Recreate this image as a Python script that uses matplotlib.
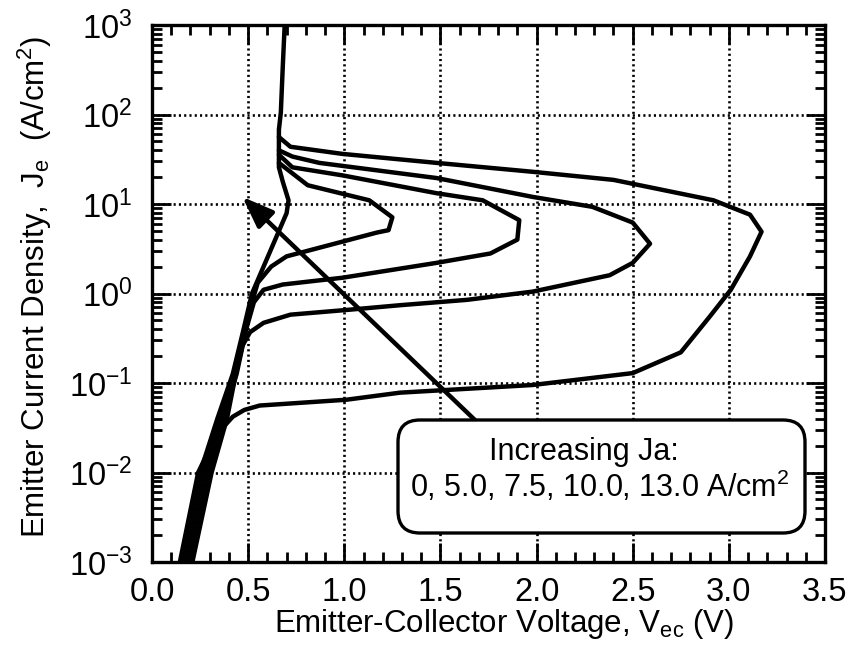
import matplotlib
matplotlib.use("Agg")
import matplotlib.pyplot as plt
from matplotlib.ticker import MultipleLocator, LogLocator, NullFormatter
from matplotlib.patches import FancyBboxPatch

plt.rcParams['font.family'] = ['Liberation Sans', 'DejaVu Sans']
plt.rcParams['mathtext.fontset'] = 'custom'
plt.rcParams['mathtext.rm'] = 'Liberation Sans'
plt.rcParams['mathtext.it'] = 'Liberation Sans:italic'
plt.rcParams['mathtext.default'] = 'regular'
plt.rcParams['axes.unicode_minus'] = False

# ---- data ----
v_ja0 = [0.15, 0.25, 0.34, 0.42, 0.47, 0.52, 0.70, 0.71, 0.68, 0.66, 0.66, 0.67, 0.68, 0.69]
j_ja0 = [0.001, 0.01, 0.04, 0.126, 0.35, 1.0, 7.9, 11, 17.8, 25.7, 67.6, 105, 339, 1000]

v_ja5 = [0.17, 0.27, 0.36, 0.43, 0.48, 0.52, 0.55, 0.62, 0.70, 1.17, 1.23, 1.25, 1.13, 0.81, 0.66]
j_ja5 = [0.001, 0.01, 0.04, 0.126, 0.35, 0.8, 1.32, 2.0, 2.6, 4.8, 5.1, 7.1, 11, 16.2, 28.8]

v_ja75 = [0.19, 0.29, 0.37, 0.44, 0.49, 0.53, 0.58, 0.68, 0.99, 1.48, 1.76, 1.90, 1.91,
          1.72, 1.48, 0.99, 0.73, 0.66]
j_ja75 = [0.001, 0.01, 0.04, 0.126, 0.4, 0.8, 1.1, 1.26, 1.5, 2.2, 2.8, 4.0, 6.6,
          11, 13.2, 20.9, 25.7, 35.5]

v_ja10 = [0.21, 0.31, 0.39, 0.44, 0.47, 0.51, 0.58, 0.72, 1.03, 1.29, 1.64, 1.98, 2.38,
          2.50, 2.59, 2.50, 2.29, 1.98, 1.48, 0.87, 0.73, 0.66]
j_ja10 = [0.001, 0.01, 0.04, 0.14, 0.26, 0.37, 0.47, 0.58, 0.66, 0.74, 0.85, 1.05, 1.6,
          2.2, 3.6, 6.2, 9.3, 12, 19.5, 28.8, 33.9, 39.8]

v_ja13 = [0.145, 0.24, 0.33, 0.37, 0.42, 0.48, 0.56, 1.01, 1.29, 1.98, 2.50, 2.75, 2.90,
          3.01, 3.11, 3.17, 3.11, 2.92, 2.40, 1.98, 1.48, 0.99, 0.72, 0.66]
j_ja13 = [0.001, 0.01, 0.025, 0.032, 0.042, 0.05, 0.056, 0.065, 0.078, 0.095, 0.129, 0.22, 0.55,
          1.1, 2.6, 4.9, 7.6, 11, 18.6, 22.9, 28.8, 36.3, 43.6, 56]

arrow_tail = (1.70, 0.035)
arrow_head = (0.47, 12.0)

legend_line1 = "Increasing Ja:"
legend_line2 = "0, 5.0, 7.5, 10.0, 13.0 A/cm$^2$"

xlabel = "Emitter-Collector Voltage, V$_{ec}$ (V)"
ylabel = "Emitter Current Density,  J$_e$  (A/cm$^2$)"

# ---- figure ----
fig = plt.figure(figsize=(8.55, 6.62), dpi=100)
fig.subplots_adjust(left=152/855, right=825/855, bottom=(662-562)/662, top=(662-25)/662)
ax = fig.add_subplot(111)

for v, j in [(v_ja0, j_ja0), (v_ja5, j_ja5), (v_ja75, j_ja75), (v_ja10, j_ja10), (v_ja13, j_ja13)]:
    ax.plot(v, j, color='black', lw=3.2, solid_joinstyle='round', solid_capstyle='round', zorder=3)

ax.set_yscale('log')
ax.set_xlim(0, 3.5)
ax.set_ylim(1e-3, 1e3)

ax.xaxis.set_major_locator(MultipleLocator(0.5))
ax.xaxis.set_minor_locator(MultipleLocator(0.1))
ax.xaxis.set_major_formatter(matplotlib.ticker.FormatStrFormatter('%.1f'))
ax.yaxis.set_major_locator(LogLocator(base=10, numticks=20))
ax.yaxis.set_minor_locator(LogLocator(base=10, subs=range(2, 10), numticks=20))
ax.yaxis.set_minor_formatter(NullFormatter())

ax.grid(True, which='major', color='black', lw=1.9, ls=(0, (0.8, 1.2)), zorder=1)

ax.tick_params(which='both', direction='in', top=True, right=True, colors='black')
ax.tick_params(which='major', length=14, width=2.0)
ax.tick_params(which='minor', length=7, width=2.0)
ax.tick_params(axis='x', which='major', labelsize=23.5, pad=11)
ax.tick_params(axis='y', which='major', labelsize=23.5, pad=14)

for s in ax.spines.values():
    s.set_linewidth(2.4)
    s.set_zorder(5)

ax.set_xlabel(xlabel, fontsize=22.5)
ax.set_ylabel(ylabel, fontsize=22.5)
ax.xaxis.set_label_coords((504-152)/673, -0.084)
ax.yaxis.set_label_coords(-0.146, 0.512)

ax.annotate('', xy=arrow_head, xytext=arrow_tail,
            arrowprops=dict(arrowstyle='-|>,head_length=0.95,head_width=0.36', lw=3.2,
                            color='black', mutation_scale=20, shrinkA=0, shrinkB=0),
            zorder=4)

box = FancyBboxPatch((3.98, 1.29), 4.07, 1.13, boxstyle='round,pad=0,rounding_size=0.22',
                     transform=fig.dpi_scale_trans, facecolor='white', edgecolor='black',
                     lw=2.4, zorder=10)
fig.add_artist(box)
fig.text(5.84 / 8.55, 2.02 / 6.62, legend_line1, ha='center', va='baseline', fontsize=22, zorder=11)
fig.text(6.00 / 8.55, 1.65 / 6.62, legend_line2, ha='center', va='baseline', fontsize=22, zorder=11)

fig.savefig('out.png', dpi=100)
